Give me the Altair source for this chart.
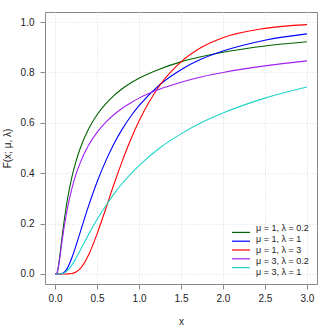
import altair as alt
import pandas as pd

# x positions
xs = [0, 0.02, 0.03, 0.05, 0.075, 0.1, 0.125, 0.15, 0.2, 0.25, 0.3, 0.4, 0.5, 0.6,
      0.7, 0.8, 0.9, 1.0, 1.25, 1.5, 1.75, 2.0, 2.5, 3.0]

# F(x; mu, lambda) values
s1 = [0, 0.002, 0.012, 0.055, 0.125, 0.191, 0.250, 0.301, 0.384, 0.448, 0.499, 0.576,
      0.632, 0.674, 0.708, 0.735, 0.758, 0.777, 0.814, 0.842, 0.863, 0.880, 0.905, 0.922]
s2 = [0, 0, 0, 0, 0.001, 0.004, 0.012, 0.025, 0.064, 0.113, 0.166, 0.271,
      0.365, 0.446, 0.516, 0.575, 0.625, 0.668, 0.752, 0.811, 0.854, 0.885, 0.928, 0.953]
s3 = [0, 0, 0, 0, 0, 0, 0, 0.0001, 0.002, 0.008, 0.021, 0.076,
      0.159, 0.255, 0.355, 0.448, 0.533, 0.607, 0.750, 0.842, 0.901, 0.938, 0.975, 0.990]
s4 = [0, 0.002, 0.011, 0.049, 0.110, 0.168, 0.220, 0.265, 0.339, 0.396, 0.442, 0.512,
      0.562, 0.601, 0.632, 0.658, 0.679, 0.698, 0.734, 0.761, 0.783, 0.800, 0.826, 0.846]
s5 = [0, 0, 0, 0, 0.0004, 0.002, 0.007, 0.014, 0.035, 0.063, 0.094, 0.157,
      0.216, 0.269, 0.317, 0.359, 0.396, 0.430, 0.501, 0.556, 0.602, 0.639, 0.698, 0.742]

labels = ["μ = 1, λ = 0.2", "μ = 1, λ = 1", "μ = 1, λ = 3", "μ = 3, λ = 0.2", "μ = 3, λ = 1"]
colors = ["#006400", "#0000FF", "#FF0000", "#A020F0", "#20D5CC"]

rows = []
for lab, ser in zip(labels, [s1, s2, s3, s4, s5]):
    for xv, yv in zip(xs, ser):
        rows.append({"x": xv, "F": yv, "series": lab})
df = pd.DataFrame(rows)
leg_df = pd.DataFrame({"series": labels})

font = "Liberation Sans"
color_scale = alt.Scale(domain=labels, range=colors)

lines = alt.Chart(df).mark_line(strokeWidth=1.1, interpolate="monotone", clip=True).encode(
    x=alt.X("x:Q", scale=alt.Scale(domain=[-0.12, 3.12], nice=False, zero=False),
            axis=alt.Axis(values=[0, 0.5, 1, 1.5, 2, 2.5, 3], format=".1f", title="x",
                          titlePadding=13)),
    y=alt.Y("F:Q", scale=alt.Scale(domain=[-0.04, 1.04], nice=False, zero=False),
            axis=alt.Axis(values=[0, 0.2, 0.4, 0.6, 0.8, 1.0], format=".1f",
                          title="F(x;  μ,  λ)", titlePadding=8, labelPadding=6)),
    color=alt.Color("series:N", sort=labels, scale=color_scale, legend=None),
)

leg_y = alt.Y("series:N", sort=labels,
              scale=alt.Scale(domain=labels, range=[216, 260], padding=0), axis=None)

leg_rules = alt.Chart(leg_df).mark_rule(strokeWidth=1.2).encode(
    x=alt.value(187), x2=alt.value(205), y=leg_y,
    color=alt.Color("series:N", sort=labels, scale=color_scale, legend=None),
)
leg_text = alt.Chart(leg_df).mark_text(align="left", baseline="middle", fontSize=9,
                                       font=font, color="#222222").encode(
    x=alt.value(211), y=leg_y, text="series:N",
)

chart = alt.layer(lines, leg_rules, leg_text).resolve_scale(y="independent").properties(
    width=272, height=272,
    autosize=alt.AutoSizeParams(type="none"),
    padding={"left": 45, "top": 12, "right": 13, "bottom": 46},
).configure_view(
    stroke="#888888", strokeWidth=1
).configure_axis(
    domain=False, grid=True, gridColor="#dddddd", gridDash=[1, 2], gridWidth=1,
    tickColor="#888888", tickSize=5, labelFont=font, titleFont=font,
    labelFontSize=10, titleFontSize=10, labelColor="#222222", titleColor="#222222",
    titleFontWeight="normal", labelPadding=4
)

chart.save("out.html", embed_options={"renderer": "svg", "actions": False})
